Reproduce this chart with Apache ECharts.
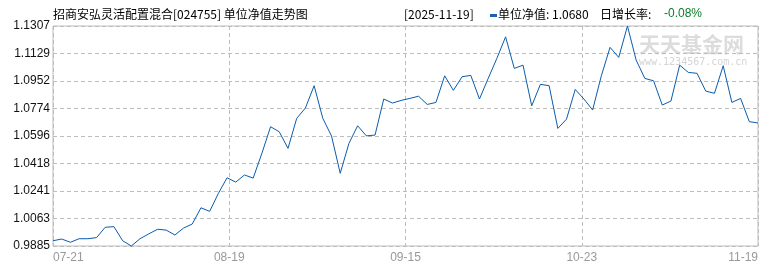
<!DOCTYPE html>
<html>
<head>
<meta charset="utf-8">
<script src="https://cdn.jsdelivr.net/npm/echarts@6/dist/echarts.min.js"></script>
<style>
html,body{margin:0;padding:0;background:#fff;}
#c{width:770px;height:270px;}
</style>
</head>
<body>
<div id="c"></div>
<script>
const titleText = '招商安弘灵活配置混合[024755] 单位净值走势图';
const latestDate = '[2025-11-19]';
const navLabel = '单位净值: 1.0680';
const growthLabel = '日增长率:';
const growthValue = '-0.08%';
const xTickLabels = ['07-21', '08-19', '09-15', '10-23', '11-19'];
const yTickLabels = ['0.9885', '1.0063', '1.0241', '1.0418', '1.0596', '1.0774', '1.0952', '1.1129', '1.1307'];
const navValues = [
  0.9919, 0.9930, 0.9909, 0.9932, 0.9932, 0.9939, 1.0006, 1.0010, 0.9919, 0.9885,
  0.9932, 0.9963, 0.9993, 0.9988, 0.9956, 1.0001, 1.0027, 1.0132, 1.0109, 1.0225,
  1.0326, 1.0298, 1.0344, 1.0324, 1.0484, 1.0656, 1.0623, 1.0516, 1.0710, 1.0777,
  1.0921, 1.0710, 1.0596, 1.0355, 1.0548, 1.0662, 1.0597, 1.0602, 1.0835, 1.0809,
  1.0826, 1.0839, 1.0853, 1.0800, 1.0813, 1.0985, 1.0891, 1.0979, 1.0988, 1.0835,
  1.0968, 1.1098, 1.1237, 1.1033, 1.1054, 1.0791, 1.0930, 1.0921, 1.0645, 1.0705,
  1.0897, 1.0835, 1.0764, 1.0985, 1.1169, 1.1104, 1.1307, 1.1087, 1.0968, 1.0953,
  1.0796, 1.0822, 1.1054, 1.1007, 1.1001, 1.0886, 1.0872, 1.1050, 1.0813, 1.0839,
  1.0689, 1.0680
];

const yMin = 0.9885, yMax = 1.1307, yStep = (yMax - yMin) / 8;
const xMax = navValues.length - 1, xStep = xMax / 4;
const cjk = '"Noto Sans CJK SC", sans-serif';

const chart = echarts.init(document.getElementById('c'), null, {renderer: 'canvas'});
chart.setOption({
  animation: false,
  backgroundColor: '#fff',
  grid: {left: 53, right: 12, top: 26, bottom: 24, show: true, borderColor: '#bdbdbd', borderWidth: 1, backgroundColor: 'transparent'},
  xAxis: {
    type: 'value', min: 0, max: xMax, interval: xStep,
    axisLine: {show: false},
    axisTick: {show: false},
    splitLine: {show: true, lineStyle: {color: '#bdbdbd', type: [4, 3], width: 1}},
    axisLabel: {
      color: '#999', fontFamily: 'Liberation Sans', fontSize: 12, margin: 6,
      alignMinLabel: 'left', alignMaxLabel: 'right', showMinLabel: true, showMaxLabel: true,
      formatter: v => xTickLabels[Math.round(v / xStep)] || ''
    }
  },
  yAxis: {
    type: 'value', min: yMin, max: yMax, interval: yStep,
    axisLine: {show: false},
    axisTick: {show: false},
    splitLine: {show: true, lineStyle: {color: '#bdbdbd', type: [4, 3], width: 1}},
    axisLabel: {
      color: '#111', fontFamily: 'Liberation Sans', fontSize: 12, margin: 3,
      showMinLabel: true, showMaxLabel: true, hideOverlap: false,
      formatter: v => yTickLabels[Math.round((v - yMin) / yStep)] || ''
    }
  },
  graphic: [
    {type: 'text', left: 53, top: 8, style: {text: titleText, font: '12px ' + cjk, fill: '#000'}},
    {type: 'text', left: 404, top: 8, style: {text: latestDate, font: '12px ' + cjk, fill: '#000'}},
    {type: 'rect', left: 490, top: 14, shape: {width: 7, height: 3}, style: {fill: '#1a5fb4'}},
    {type: 'text', left: 498, top: 8, style: {text: navLabel, font: '12px ' + cjk, fill: '#000'}},
    {type: 'text', left: 600, top: 8, style: {text: growthLabel, font: '12px ' + cjk, fill: '#000'}},
    {type: 'text', left: 664, top: 8, style: {text: growthValue, font: '12px "Liberation Sans"', fill: '#0a7d2a'}},
    {type: 'text', left: 639, top: 34, z: 0, silent: true, style: {text: '天天基金网', font: 'bold 21px ' + cjk, fill: '#dcdcdc'}},
    {type: 'text', left: 639, top: 57, z: 0, silent: true, style: {text: 'www.1234567.com.cn', font: '10px "DejaVu Sans Mono"', fill: '#d4d4d4'}}
  ],
  series: [{
    type: 'line',
    data: navValues.map((v, i) => [i, v]),
    showSymbol: false,
    symbol: 'none',
    clip: false,
    z: 5,
    lineStyle: {color: '#0b5cad', width: 1}
  }]
});
</script>
</body>
</html>
